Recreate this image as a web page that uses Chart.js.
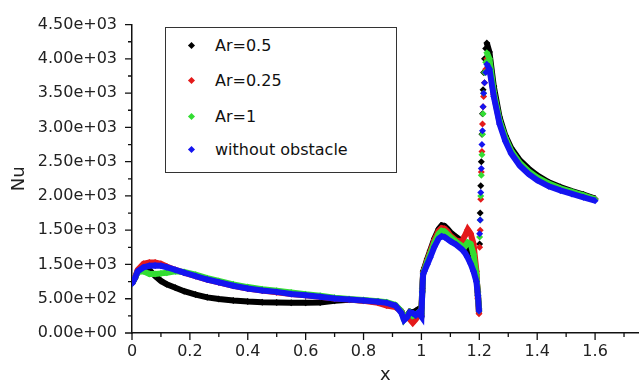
<!DOCTYPE html>
<html>
<head>
<meta charset="utf-8">
<script src="https://cdn.jsdelivr.net/npm/chart.js@4.4.1/dist/chart.umd.min.js"></script>
<style>
  html, body { margin: 0; padding: 0; background: #fff; }
  #wrap { position: relative; width: 642px; height: 384px; }
  #legend { position: absolute; left: 165px; top: 27px; width: 230px; height: 144px;
            border: 1.5px solid #333; background: #fff; font-family: "DejaVu Sans", sans-serif;
            font-size: 16px; color: #111; }
  .item { position: absolute; left: 0; height: 20px; line-height: 20px; white-space: nowrap; }
  .mk { position: absolute; left: 23px; top: 7px; width: 5px; height: 5px; transform: rotate(45deg); }
  .lbl { position: absolute; left: 49px; top: 0; }
</style>
</head>
<body>
<div id="wrap">
  <canvas id="c" width="642" height="384"></canvas>
  <div id="legend"></div>
</div>
<script>
// ---- data ----
const seriesNames = ['Ar=0.5', 'Ar=0.25', 'Ar=1', 'without obstacle'];
const seriesColors = ['#000000', '#e41a1a', '#33dd33', '#1414f0'];

const xValues = [
  0, 0.01, 0.02, 0.04, 0.06, 0.08, 0.10, 0.12, 0.15, 0.18, 0.22, 0.26, 0.30, 0.35, 0.40, 0.45, 0.50,
  0.55, 0.60, 0.65, 0.70, 0.75, 0.80, 0.85, 0.88, 0.91, 0.93, 0.94, 0.95, 0.96, 0.97, 0.98, 0.99, 1.00,
  1.003, 1.006, 1.01, 1.02, 1.03, 1.045, 1.06, 1.07, 1.08, 1.09, 1.10, 1.12, 1.14, 1.15, 1.16, 1.17,
  1.18, 1.19, 1.195, 1.199,
  1.201, 1.203, 1.205, 1.207, 1.209, 1.211, 1.213, 1.215, 1.218, 1.222, 1.226,
  1.235, 1.25, 1.27, 1.29, 1.31, 1.34, 1.37, 1.40, 1.44, 1.48, 1.52, 1.56, 1.60
];

const nuAr05 = [
  720, 800, 900, 960, 920, 830, 760, 710, 660, 610, 560, 520, 495, 475, 460, 450, 445,
  440, 440, 445, 470, 485, 475, 455, 440, 400, 320, 230, 250, 310, 300, 320, 350, 370,
  650, 900, 950, 1080, 1200, 1380, 1520, 1570, 1560, 1520, 1470, 1400, 1340, 1300, 1250, 1150,
  1000, 800, 600, 350,
  1300, 1750, 2150, 2500, 2900, 3200, 3550, 3800, 4000, 4150, 4230,
  4100, 3600, 3150, 2880, 2700, 2520, 2400, 2300, 2200, 2130, 2070, 2020, 1960
];

const nuAr025 = [
  720, 810, 920, 1010, 1030, 1030, 1010, 970, 920, 880, 830, 780, 740, 690, 650, 620, 595,
  570, 550, 530, 505, 490, 470, 440, 400, 380, 320, 220, 250, 200, 150, 200, 260, 260,
  620, 880, 930, 1060, 1180, 1360, 1490, 1530, 1520, 1480, 1420, 1350, 1330, 1420, 1510, 1450,
  1300, 900, 500, 280,
  1250, 1500, 1950, 2350, 2650, 3050, 3300, 3450, 3650, 3850, 4000,
  3900, 3480, 3080, 2830, 2650, 2470, 2350, 2260, 2170, 2100, 2050, 2000, 1950
];

const nuAr1 = [
  720, 800, 890, 900, 860, 860, 870, 880, 900, 890, 850, 800, 760, 710, 670, 640, 615,
  590, 565, 545, 515, 495, 480, 465, 450, 410, 320, 200, 260, 300, 250, 270, 300, 280,
  610, 870, 920, 1040, 1150, 1320, 1450, 1490, 1480, 1440, 1400, 1330, 1270, 1260, 1320, 1300,
  1150, 850, 550, 320,
  1400, 1650, 2000, 2300, 2600, 2900, 3200, 3500, 3800, 3950, 4090,
  4000, 3520, 3100, 2850, 2660, 2480, 2360, 2270, 2180, 2110, 2060, 2010, 1950
];

const nuNoObstacle = [
  720, 800, 900, 960, 980, 985, 980, 960, 920, 880, 830, 780, 740, 690, 650, 620, 600,
  570, 550, 530, 505, 490, 475, 455, 440, 400, 300, 190, 230, 300, 290, 260, 300, 240,
  600, 860, 900, 1000, 1100, 1260, 1380, 1410, 1400, 1370, 1340, 1290, 1220, 1170, 1100, 1010,
  900, 750, 550, 320,
  1450, 1650, 2050, 2400, 2750, 2950, 3300, 3500, 3650, 3800, 3920,
  3850, 3450, 3050, 2800, 2620, 2440, 2320, 2230, 2140, 2080, 2030, 1980, 1930
];

const xMajorTicks = [0, 0.2, 0.4, 0.6, 0.8, 1, 1.2, 1.4, 1.6];
const xMinorTicks = [0.1, 0.3, 0.5, 0.7, 0.9, 1.1, 1.3, 1.5, 1.7];
const yMajorTicks = [0, 500, 1000, 1500, 2000, 2500, 3000, 3500, 4000, 4500];
const yMinorTicks = [250, 750, 1250, 1750, 2250, 2750, 3250, 3750, 4250];
const yTickLabels = ['0.00e+00', '5.00e+02', '1.50e+03', '1.50e+03', '2.00e+03',
                     '2.50e+03', '3.00e+03', '3.50e+03', '4.00e+03', '4.50e+03'];

// ---- build chart ----
const allSeries = [nuAr05, nuAr025, nuAr1, nuNoObstacle];
function toPoints(ys) { return xValues.map((x, i) => ({ x: x, y: ys[i] })); }

const datasets = [];
// draw order: first dataset is painted on top, so list in reverse
for (let k = allSeries.length - 1; k >= 0; k--) {
  datasets.push({
    label: seriesNames[k],
    data: toPoints(allSeries[k]),
    borderColor: seriesColors[k],
    backgroundColor: seriesColors[k],
    showLine: true,
    borderWidth: 6,
    tension: 0,
    pointStyle: 'rectRot',
    pointRadius: 3.5,
    pointBorderWidth: 0,
    pointHoverRadius: 3.5,
    segment: {
      borderColor: ctx => (ctx.p0.parsed.x > 1.197 && ctx.p1.parsed.x < 1.227) ? 'rgba(0,0,0,0)' : undefined
    }
  });
}

const legendEl = document.getElementById('legend');
const rowTops = [8, 43, 79, 112];
seriesNames.forEach((n, i) => {
  const d = document.createElement('div');
  d.className = 'item';
  d.style.top = rowTops[i] + 'px';
  d.innerHTML = '<span class="mk" style="background:' + seriesColors[i] + '"></span><span class="lbl"></span>';
  d.querySelector('.lbl').textContent = n;
  legendEl.appendChild(d);
});

const tickPlugin = {
  id: 'manualTicks',
  afterDraw(chart) {
    const { ctx, scales: { x, y } } = chart;
    ctx.save();
    ctx.strokeStyle = '#111';
    ctx.lineWidth = 1.3;
    ctx.beginPath();
    const yb = y.getPixelForValue(0);
    xMajorTicks.forEach(v => { const p = x.getPixelForValue(v); ctx.moveTo(p, yb); ctx.lineTo(p, yb + 7); });
    xMinorTicks.forEach(v => { const p = x.getPixelForValue(v); ctx.moveTo(p, yb); ctx.lineTo(p, yb + 4); });
    const xl = x.getPixelForValue(0);
    yMajorTicks.forEach(v => { const p = y.getPixelForValue(v); ctx.moveTo(xl, p); ctx.lineTo(xl - 7, p); });
    yMinorTicks.forEach(v => { const p = y.getPixelForValue(v); ctx.moveTo(xl, p); ctx.lineTo(xl - 4, p); });
    ctx.stroke();
    ctx.restore();
  }
};

const tickFont = { family: '"DejaVu Sans", sans-serif', size: 16 };

new Chart(document.getElementById('c'), {
  type: 'scatter',
  data: { datasets: datasets },
  plugins: [tickPlugin],
  options: {
    responsive: false,
    animation: false,
    events: [],
    layout: { padding: { left: 0, right: 3, top: 16, bottom: 0 } },
    plugins: { legend: { display: false }, tooltip: { enabled: false } },
    scales: {
      x: {
        type: 'linear',
        min: 0, max: 1.75,
        afterFit: s => { s.height = 51; },
        afterBuildTicks: s => { s.ticks = xMajorTicks.map(v => ({ value: v })); },
        ticks: { color: '#222', font: tickFont, padding: 9, maxRotation: 0, autoSkip: false,
                 callback: v => String(v) },
        grid: { display: true, drawOnChartArea: false, drawTicks: false },
        border: { display: true, color: '#111', width: 1.5 },
        title: { display: true, text: 'x', color: '#222',
                 font: { family: '"DejaVu Sans", sans-serif', size: 18, lineHeight: 1 },
                 padding: { top: 0, bottom: 0 } }
      },
      y: {
        type: 'linear',
        min: 0, max: 4500,
        afterFit: s => { s.width = 132; },
        afterBuildTicks: s => { s.ticks = yMajorTicks.map(v => ({ value: v })); },
        ticks: { color: '#222', font: tickFont, padding: 15, autoSkip: false,
                 callback: (v, i) => yTickLabels[i] },
        grid: { display: true, drawOnChartArea: false, drawTicks: false },
        border: { display: true, color: '#111', width: 1.5 },
        title: { display: true, text: 'Nu', color: '#222',
                 font: { family: '"DejaVu Sans", sans-serif', size: 18, lineHeight: 1 },
                 padding: { top: 10, bottom: 0 } }
      }
    }
  }
});
</script>
</body>
</html>
